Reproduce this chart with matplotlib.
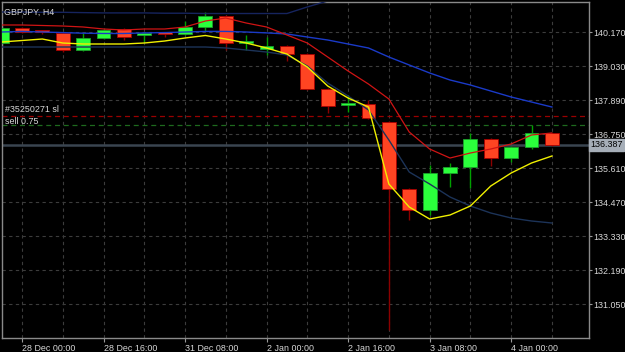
import matplotlib
matplotlib.use("Agg")
import matplotlib.pyplot as plt
import matplotlib.transforms as mtransforms
import numpy as np

plt.rcParams["font.family"] = ["Liberation Sans", "DejaVu Sans"]

# GBPJPY H4 candles
opens  = [139.80, 140.30, 140.18, 140.14, 139.57, 139.97, 140.27, 140.06, 140.11, 140.10,
          140.34, 140.71, 139.80, 139.60, 139.70, 139.43, 138.26, 137.72, 137.76, 137.15,
          134.91, 134.20, 135.44, 135.64, 136.58, 135.95, 136.31, 136.78]
highs  = [140.37, 140.34, 140.24, 140.17, 140.14, 140.27, 140.30, 140.17, 140.17, 140.54,
          140.84, 140.74, 140.07, 140.00, 139.73, 139.46, 138.29, 138.06, 137.89, 137.19,
          134.94, 135.71, 135.78, 136.78, 136.62, 136.35, 137.05, 136.80]
lows   = [139.75, 140.14, 140.10, 139.50, 139.53, 139.93, 139.90, 139.84, 140.00, 140.07,
          140.20, 139.57, 139.57, 139.40, 139.20, 138.22, 137.45, 137.49, 137.25, 134.70,
          133.87, 134.03, 134.97, 134.94, 135.68, 135.81, 136.25, 136.35]
closes = [140.30, 140.17, 140.17, 139.57, 139.97, 140.24, 140.00, 140.07, 140.10, 140.34,
          140.71, 139.80, 139.83, 139.70, 139.43, 138.26, 137.69, 137.76, 137.29, 134.91,
          134.20, 135.44, 135.64, 136.58, 135.95, 136.31, 136.78, 136.39]

# indicator lines
ma_fast = [139.835, 139.885, 139.935, 139.801, 139.768, 139.768, 139.768, 139.801, 139.868, 139.969,
           140.053, 139.935, 139.801, 139.634, 139.432, 138.996, 138.359, 137.957, 137.655, 135.074,
           134.302, 133.900, 134.034, 134.336, 135.007, 135.442, 135.778, 136.012]
ma_slow = [140.405, 140.405, 140.388, 140.371, 140.338, 140.271, 140.237, 140.271, 140.271, 140.338,
           140.539, 140.639, 140.472, 140.338, 140.069, 139.801, 139.332, 138.862, 138.426, 137.924,
           136.817, 136.247, 135.945, 136.113, 136.247, 136.415, 136.717, 136.784]
band_mid = [140.17, 140.19, 140.17, 140.15, 140.13, 140.12, 140.12, 140.14, 140.15, 140.17,
            140.19, 140.19, 140.17, 140.14, 140.103, 140.002, 139.902, 139.768, 139.634, 139.332,
            139.064, 138.796, 138.561, 138.393, 138.192, 137.991, 137.823, 137.655]
band_up = [140.84, 140.84, 140.83, 140.83, 140.82, 140.81, 140.81, 140.81, 140.80, 140.80,
           140.79, 140.79, 140.79, 140.79, 140.79, 141.01, 141.21, 141.41, 141.58, 142.08,
           142.58, 142.75, 142.85, 142.85, 142.78, 142.72, 142.65, 142.58]
band_low = [139.667, 139.667, 139.667, 139.667, 139.667, 139.667, 139.667, 139.667, 139.667, 139.667,
            139.667, 139.634, 139.567, 139.499, 139.399, 139.030, 138.460, 138.024, 137.555, 136.549,
            135.476, 135.074, 134.638, 134.336, 134.101, 133.934, 133.833, 133.766]

x_labels = ["28 Dec 00:00", "28 Dec 16:00", "31 Dec 08:00", "2 Jan 00:00",
            "2 Jan 16:00", "3 Jan 08:00", "4 Jan 00:00"]
x_label_pos = [1, 5, 9, 13, 17, 21, 25]
y_ticks = [131.050, 132.190, 133.330, 134.470, 135.610, 136.750, 137.890, 139.030, 140.170]

sl_level = 137.35
tp_level = 137.05
last_price = 136.387
marker_bar = 19
marker_low = 130.18

fg = "#d8d8d8"
fs = 6.4
fig = plt.figure(figsize=(6.25, 3.52), dpi=100, facecolor="black")
ax = fig.add_axes([2/625, 14/352, 587/625, 336/352])
ax.set_facecolor("black")

x = np.arange(len(opens))
o = np.array(opens); c = np.array(closes); h = np.array(highs); l = np.array(lows)
up = c >= o

# grid
ax.set_xticks(x_label_pos)
ax.set_xticklabels(x_labels, ha="left")
ax.set_xticks(np.arange(1, len(x), 2), minor=True)
ax.set_yticks(y_ticks)
ax.set_yticklabels([f"{v:.3f}" for v in y_ticks])
ax.grid(True, which="both", color="#3c3c3c", linestyle=(0, (3, 3)), linewidth=0.8)
ax.set_axisbelow(True)

# horizontal order lines and price line
ax.axhline(sl_level, color="#9a0000", linestyle=(0, (4, 3)), linewidth=0.9, zorder=1)
ax.axhline(tp_level, color="#1e6a1e", linestyle=(0, (4, 3)), linewidth=0.9, zorder=1)
ax.axhline(last_price, color="#3a4550", linewidth=1.8, zorder=1)
ax.vlines(marker_bar, marker_low, l[marker_bar], color="#8b0000", linewidth=1, zorder=1)

# candles
ax.vlines(x[up], l[up], h[up], color="#00a000", linewidth=1, zorder=2)
ax.vlines(x[~up], l[~up], h[~up], color="#8b0000", linewidth=1, zorder=2)
body_low = np.minimum(o, c)
body_h = np.maximum(np.abs(c - o), 0.06)
ax.bar(x[up], body_h[up], bottom=body_low[up], width=0.68, color="#2bff3c",
       edgecolor="#1ca02a", linewidth=0.6, zorder=3)
ax.bar(x[~up], body_h[~up], bottom=body_low[~up], width=0.68, color="#ff4422",
       edgecolor="#a80000", linewidth=0.6, zorder=3)

# indicators
ax.plot(x, band_up, color="#16245e", linewidth=1, zorder=4)
ax.plot(x, band_low, color="#1c3358", linewidth=1, zorder=4)
ax.plot(x, band_mid, color="#1a3ac8", linewidth=1, zorder=4)
ax.plot(x, ma_slow, color="#d01414", linewidth=0.9, zorder=5)
ax.plot(x, ma_fast, color="#f0f000", linewidth=1, zorder=5)

ax.set_xlim(0.02, 28.82)
ax.set_ylim(129.91, 141.176)

ax.yaxis.tick_right()
ax.tick_params(axis="y", colors="#9a9a9a", labelcolor=fg, labelsize=fs, length=2, pad=1)
ax.tick_params(axis="x", which="major", colors="#9a9a9a", labelcolor=fg, labelsize=fs, length=3, pad=1)
ax.tick_params(axis="x", which="minor", length=0)
for s in ax.spines.values():
    s.set_color("#8a8a8a")
    s.set_linewidth(1)

# texts
mixed = mtransforms.blended_transform_factory(ax.transAxes, ax.transData)
ax.text(0.004, 0.982, "GBPJPY, H4", transform=ax.transAxes, color=fg,
        fontsize=fs, va="top", ha="left", zorder=6)
ax.text(0.005, sl_level + 0.07, "#35250271 sl", color=fg, fontsize=fs,
        va="bottom", ha="left", transform=mixed)
ax.text(0.005, sl_level - 0.02, "sell 0.75", color=fg, fontsize=fs,
        va="top", ha="left", transform=mixed)
ax.text(1.002, last_price, f"{last_price:.3f}", color="black", fontsize=fs, va="center", ha="left",
        transform=mixed,
        bbox=dict(boxstyle="square,pad=0.15", facecolor="#a6aeb8", edgecolor="#a6aeb8"),
        clip_on=False)

fig.savefig("out.png", dpi=100, facecolor="black")
